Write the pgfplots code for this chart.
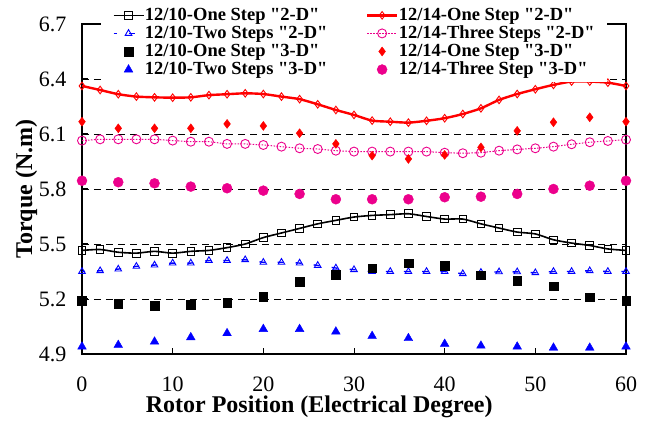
\documentclass[border=0pt]{standalone}
\usepackage{fontspec}
\setmainfont{Liberation Serif}[Ligatures=TeXOff]
\usepackage{pgfplots}
\pgfplotsset{compat=1.18}
\newcommand{\lf}{\bfseries\fontsize{18.5}{20}\selectfont}
\begin{document}
\begin{tikzpicture}
\useasboundingbox (-82pt,-68pt) rectangle (579pt,354pt);
\begin{axis}[
  scale only axis, width=544pt, height=330pt,
  xmin=0, xmax=60, ymin=4.9, ymax=6.7,
  xtick={0,10,20,30,40,50,60},
  ytick={4.9,5.2,5.5,5.8,6.1,6.4,6.7},
  tick pos=left, tick align=inside, major tick length=6pt,
  every tick/.style={black, line width=1pt},
  axis line style={black, line width=1.2pt},
  ymajorgrids,
  major grid style={black, dash pattern=on 7pt off 5pt, line width=0.7pt},
  /pgf/number format/assume math mode=true,
  yticklabel style={/pgf/number format/fixed, /pgf/number format/fixed zerofill, /pgf/number format/precision=1, xshift=-12pt},
  ticklabel style={font=\fontsize{22}{26}\selectfont},
  xticklabel style={yshift=-19pt},
  xlabel={\bfseries Rotor Position (Electrical Degree)},
  ylabel={\bfseries Torque (N.m)},
  label style={font=\bfseries\fontsize{24}{28}\selectfont},
  xlabel style={at={(axis description cs:0.436,0)}, anchor=base, yshift=-59pt},
  ylabel style={at={(axis description cs:-0.0919,0.5)}, anchor=base},
  clip=false,
  legend columns=2,
  legend image code/.code={\draw[mark repeat=2,mark phase=2,#1] plot coordinates {(0pt,0pt) (15pt,0pt) (30pt,0pt)};},
  legend style={at={(axis description cs:0.5,1)}, anchor=north, yshift=21pt,
    draw=none, fill=white, inner xsep=12pt, inner ysep=4.5pt, row sep=2.5pt,
    cells={anchor=west},
    nodes={inner sep=0.5pt, text depth=0.2em},
    /tikz/every even column/.append style={column sep=38pt}},
]
% 12/10 One Step 2-D
\addplot[black, line width=1.6pt, smooth, tension=0.4, mark=square, mark size=3.8pt, mark options={solid, line width=0.9pt}] coordinates {
(0,5.465) (2,5.47) (4,5.455) (6,5.45) (8,5.46) (10,5.45) (12,5.46) (14,5.465) (16,5.48) (18,5.50) (20,5.535) (22,5.56) (24,5.585) (26,5.61) (28,5.629) (30,5.647) (32,5.656) (34,5.66) (36,5.665) (38,5.65) (40,5.636) (42,5.636) (44,5.61) (46,5.587) (48,5.565) (50,5.555) (52,5.523) (54,5.505) (56,5.492) (58,5.473) (60,5.465)};
\addlegendentry{\lf 12/10-One Step "2-D"}
% 12/14 One Step 2-D
\addplot[red, line width=2.4pt, smooth, tension=0.4, mark=diamond, mark size=3.8pt, mark options={solid, line width=0.9pt}] coordinates {
(0,6.362) (2,6.34) (4,6.317) (6,6.304) (8,6.30) (10,6.298) (12,6.30) (14,6.312) (16,6.317) (18,6.322) (20,6.318) (22,6.304) (24,6.29) (26,6.262) (28,6.231) (30,6.204) (32,6.173) (34,6.167) (36,6.162) (38,6.172) (40,6.186) (42,6.209) (44,6.24) (46,6.286) (48,6.318) (50,6.344) (52,6.368) (54,6.386) (56,6.386) (58,6.38) (60,6.362)};
\addlegendentry{\lf 12/14-One Step "2-D"}
% 12/10 Two Steps 2-D
\addplot[blue, line width=1.4pt, dash pattern=on 6pt off 12.13pt, dash phase=3pt, mark=triangle, mark size=3.8pt, mark options={solid, line width=0.9pt}] coordinates {
(0,5.35) (2,5.354) (4,5.363) (6,5.378) (8,5.385) (10,5.396) (12,5.396) (14,5.41) (16,5.41) (18,5.414) (20,5.40) (22,5.40) (24,5.396) (26,5.383) (28,5.369) (30,5.36) (32,5.35) (34,5.35) (36,5.35) (38,5.35) (40,5.35) (42,5.338) (44,5.345) (46,5.348) (48,5.348) (50,5.343) (52,5.35) (54,5.35) (56,5.354) (58,5.35) (60,5.35)};
\addlegendentry{\lf 12/10-Two Steps "2-D"}
% 12/14 Three Steps 2-D
\addplot[magenta, line width=1pt, dash pattern=on 1.5pt off 1.5pt, mark=o, mark size=4.5pt, mark options={solid, line width=0.9pt}] coordinates {
(0,6.064) (2,6.071) (4,6.071) (6,6.071) (8,6.071) (10,6.064) (12,6.058) (14,6.058) (16,6.046) (18,6.046) (20,6.04) (22,6.031) (24,6.022) (26,6.018) (28,6.009) (30,6.004) (32,6.004) (34,6.004) (36,6.004) (38,6.004) (40,5.998) (42,5.995) (44,5.998) (46,6.009) (48,6.016) (50,6.022) (52,6.031) (54,6.044) (56,6.055) (58,6.062) (60,6.069)};
\addlegendentry{\lf 12/14-Three Steps "2-D"}
% 12/10 One Step 3-D
\addplot[only marks, black, mark=square*, mark size=4.3pt] coordinates {
(0,5.192) (4,5.173) (8,5.165) (12,5.17) (16,5.181) (20,5.212) (24,5.294) (28,5.334) (32,5.369) (36,5.396) (40,5.382) (44,5.329) (48,5.30) (52,5.269) (56,5.21) (60,5.192)};
\addlegendentry{\lf 12/10-One Step "3-D"}
% 12/14 One Step 3-D
\addplot[only marks, red, mark=diamond*, mark size=4.5pt] coordinates {
(0,6.167) (4,6.131) (8,6.131) (12,6.131) (16,6.155) (20,6.144) (24,6.104) (28,6.046) (32,5.982) (36,5.964) (40,5.986) (44,6.027) (48,6.117) (52,6.164) (56,6.191) (60,6.167)};
\addlegendentry{\lf 12/14-One Step "3-D"}
% 12/10 Two Steps 3-D
\addplot[only marks, blue, mark=triangle*, mark size=5pt] coordinates {
(0,4.94) (4,4.949) (8,4.967) (12,4.991) (16,5.013) (20,5.036) (24,5.036) (28,5.022) (32,4.998) (36,4.986) (40,4.955) (44,4.945) (48,4.94) (52,4.934) (56,4.934) (60,4.94)};
\addlegendentry{\lf 12/10-Two Steps "3-D"}
% 12/14 Three Step 3-D
\addplot[only marks, magenta, mark=*, mark size=5pt] coordinates {
(0,5.845) (4,5.837) (8,5.831) (12,5.813) (16,5.804) (20,5.791) (24,5.773) (28,5.744) (32,5.744) (36,5.744) (40,5.755) (44,5.758) (48,5.773) (52,5.80) (56,5.818) (60,5.845)};
\addlegendentry{\lf 12/14-Three Step "3-D"}
\end{axis}
\end{tikzpicture}
\end{document}
